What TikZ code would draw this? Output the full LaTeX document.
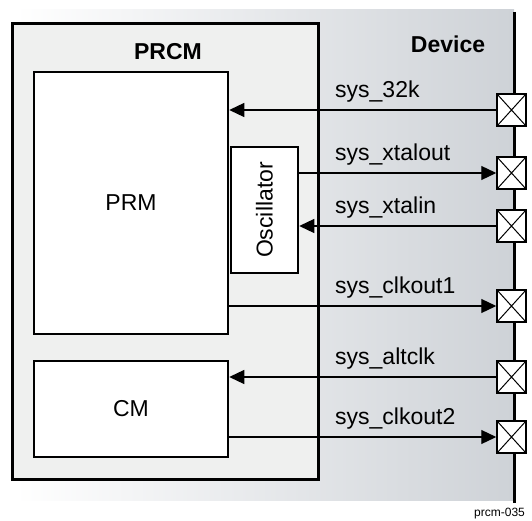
\documentclass[tikz,border=0pt]{standalone}
\usepackage{fontspec}
\setmainfont{Liberation Sans}
\usetikzlibrary{arrows.meta}
\definecolor{prcmfill}{RGB}{239,240,239}
\definecolor{devgray}{RGB}{206,210,215}
\tikzset{
  block/.style={draw,line width=2.5pt,fill=white,inner sep=0pt},
  pinbox/.style={draw,line width=1.5pt,fill=white,minimum width=29pt,minimum height=32pt,inner sep=0pt,
    path picture={\draw[line width=1pt] (path picture bounding box.north west) -- (path picture bounding box.south east)
      (path picture bounding box.north east) -- (path picture bounding box.south west);}},
  sig/.style={line width=1.2pt,-{Triangle[length=15pt,width=14pt]}},
  sigtext/.style={anchor=west,inner sep=0pt},
}
\begin{document}
\begin{tikzpicture}[x=1pt,y=-1pt,font=\fontsize{23}{27}\selectfont]
  \useasboundingbox (0,0) rectangle (532,521);
  % device area
  \shade[left color=white,right color=devgray] (15,10) rectangle (514,500);
  \draw[line width=3pt] (514,12) -- (514,503);
  \node[anchor=center,font=\fontsize{23}{27}\selectfont\bfseries] (dev) at (448,44) {Device};
  % PRCM and its blocks
  \node[block,fill=prcmfill,line width=3pt,minimum width=306pt,minimum height=455pt] (prcm) at (165,251.5) {};
  \node[font=\fontsize{23}{27}\selectfont\bfseries] (prcmlbl) at (168,52) {PRCM};
  \node[block,minimum width=194pt,minimum height=262pt] (prm) at (131,203) {PRM};
  \node[block,minimum width=67pt,minimum height=126pt] (osc) at (264.5,210) {\rotatebox{90}{Oscillator}};
  \node[block,minimum width=194pt,minimum height=96pt] (cm) at (131,409) {CM};
  % pins
  \foreach \name/\y in {p32k/110,pxo/173,pxi/226,pco1/306,palt/377,pco2/437}
    \node[pinbox] (\name) at (511.5,\y) {};
  % signals
  \draw[sig] (p32k.west) -- (p32k.west -| prm.east);
  \draw[sig] (osc.east |- pxo.west) -- (pxo.west);
  \draw[sig] (pxi.west) -- (pxi.west -| osc.east);
  \draw[sig] (prm.east |- pco1.west) -- (pco1.west);
  \draw[sig] (palt.west) -- (palt.west -| cm.east);
  \draw[sig] (cm.east |- pco2.west) -- (pco2.west);
  \node[sigtext] (l32k) at (335,92) {sys\_32k};
  \node[sigtext] (lxo) at (335,155) {sys\_xtalout};
  \node[sigtext] (lxi) at (335,208) {sys\_xtalin};
  \node[sigtext] (lco1) at (335,288) {sys\_clkout1};
  \node[sigtext] (lalt) at (335,359) {sys\_altclk};
  \node[sigtext] (lco2) at (335,419) {sys\_clkout2};
  \node[anchor=base west,inner sep=0pt,font=\fontsize{12}{14}\selectfont] (fig) at (474,516.5) {prcm-035};
\end{tikzpicture}
\end{document}
